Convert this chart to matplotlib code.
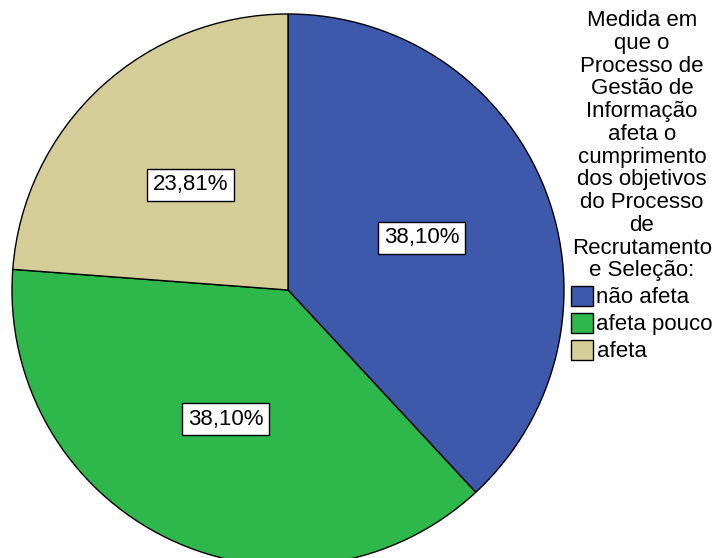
import matplotlib.pyplot as plt

plt.rcParams['font.family'] = ['Liberation Sans', 'DejaVu Sans']

categories = ["não afeta", "afeta pouco", "afeta"]
percentages = [38.10, 38.10, 23.81]
colors = ["#3E58AC", "#2EB84B", "#D5CD98"]
legend_title = ("Medida em\nque o\nProcesso de\nGestão de\nInformação\nafeta o\n"
                "cumprimento\ndos objetivos\ndo Processo\nde\nRecrutamento\ne Seleção:")


def fmt(p):
    return ("%.2f%%" % p).replace(".", ",")


def main():
    fig = plt.figure(figsize=(7.13, 5.58), dpi=100)
    W, H = 713, 558
    # pie centre ~(288, 290) px, radius ~276 px
    ax = fig.add_axes([12 / W, (H - 566) / H, 552 / W, 552 / H])
    wedges, texts, autotexts = ax.pie(
        percentages, colors=colors, startangle=90, counterclock=False,
        autopct=fmt, pctdistance=0.52, radius=1,
        wedgeprops=dict(edgecolor="black", linewidth=1),
        textprops=dict(fontsize=16, color="black"))
    for t in autotexts:
        t.set_bbox(dict(facecolor="white", edgecolor="black", linewidth=1, pad=4))
    ax.set_xlim(-1, 1)
    ax.set_ylim(-1, 1)
    ax.set_aspect("equal")
    ax.axis("off")

    leg = fig.legend(wedges, categories, title=legend_title, frameon=False,
                     loc="upper right", bbox_to_anchor=(1.0, 1 - 10 / H),
                     fontsize=16, title_fontsize=16, handlelength=1.0,
                     handleheight=1.0, handletextpad=0.15, labelspacing=0.2,
                     borderpad=0, borderaxespad=0)
    leg.get_title().set_linespacing(1.11)
    leg.get_title().set_multialignment("center")
    for h in leg.legend_handles:
        h.set_edgecolor("black")
        h.set_linewidth(1)

    fig.savefig("out.png", dpi=100)


if __name__ == "__main__":
    main()
